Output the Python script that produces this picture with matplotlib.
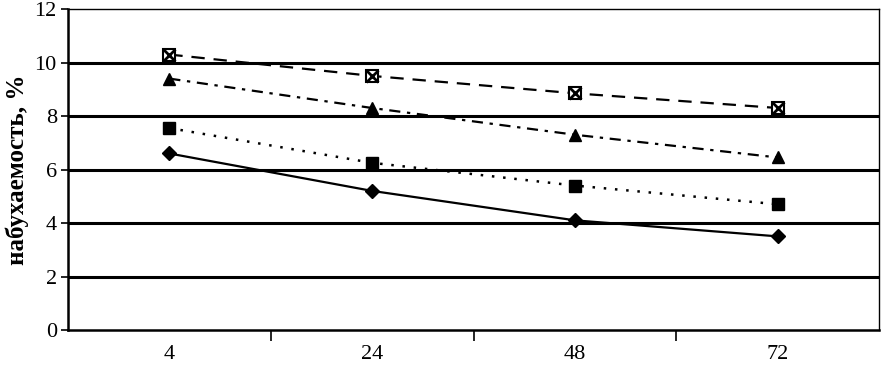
import matplotlib.pyplot as plt
import numpy as np

# data
hours = ['4', '24', '48', '72']
diamond = [6.6, 5.2, 4.1, 3.5]
square = [7.55, 6.25, 5.4, 4.7]
triangle = [9.4, 8.3, 7.3, 6.45]
xsquare = [10.3, 9.5, 8.85, 8.3]

plt.rcParams['font.family'] = ['Liberation Serif', 'DejaVu Serif']

fig = plt.figure(figsize=(8.82, 3.78), dpi=100)
ax = fig.add_axes([0.077, 0.127, 0.92, 0.849])

x = np.arange(len(hours))

# heavy horizontal grid lines
for yv in [2, 4, 6, 8, 10]:
    ax.axhline(yv, color='black', lw=2.2, zorder=1)

ax.plot(x, diamond, color='black', lw=1.6, ls='-', marker='D', ms=7, zorder=3)
ax.plot(x, square, color='black', lw=1.8, ls=(0, (1, 3.5)), marker='s', ms=8, zorder=3)
ax.plot(x, triangle, color='black', lw=1.6, ls=(0, (5, 3, 1.5, 3)), marker='^', ms=9, zorder=3)
ax.plot(x, xsquare, color='black', lw=1.6, ls=(0, (6, 4)), marker='s', ms=9,
        mfc='white', mec='black', mew=1.5, zorder=3)
ax.plot(x, xsquare, color='none', marker='x', ms=8, mec='black', mew=2, zorder=4)

ax.set_xlim(-0.5, len(hours) - 0.5)
ax.set_ylim(0, 12)
ax.set_yticks(range(0, 13, 2))
ax.set_xticks(x)
ax.set_xticklabels(hours)
ax.set_xticks(np.arange(0.5, len(hours) - 1, 1), minor=True)
ax.tick_params(axis='x', which='major', length=0, pad=11, labelsize=16)
ax.tick_params(axis='x', which='minor', length=8, width=1.2, direction='out')
ax.tick_params(axis='y', length=5, width=1.2, direction='out', pad=3, labelsize=16)

ax.spines['left'].set_linewidth(1.8)
ax.spines['bottom'].set_linewidth(1.8)
ax.spines['top'].set_linewidth(1.0)
ax.spines['top'].set_linestyle((0, (4, 1)))
ax.spines['right'].set_linewidth(1.0)
ax.spines['right'].set_linestyle((0, (2, 1)))

ax.set_ylabel('набухаемость, %', fontsize=18, fontweight='bold', labelpad=4)

fig.savefig('out.png', dpi=100)
